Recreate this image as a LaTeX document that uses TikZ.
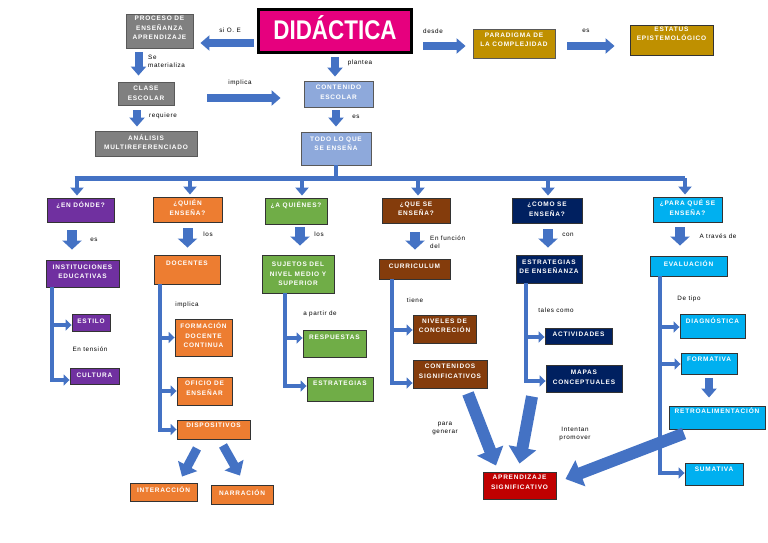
\documentclass[tikz,border=0pt]{standalone}
\usepackage{fontspec}
\setmainfont{Liberation Sans}
\newfontfamily\bxfont{Liberation Sans}[LetterSpace=12]
\newfontfamily\lbfont{Liberation Sans}[LetterSpace=10]
\newfontfamily\titfont{Liberation Sans}[FakeStretch=0.83]
\usetikzlibrary{arrows.meta}
\definecolor{ablue}{HTML}{4472C4}
\definecolor{cmag}{HTML}{E6007E}
\definecolor{cgry}{HTML}{808080}
\definecolor{clbl}{HTML}{8EA9DB}
\definecolor{cgold}{HTML}{BF9000}
\definecolor{cpur}{HTML}{7030A0}
\definecolor{corg}{HTML}{ED7D31}
\definecolor{cgrn}{HTML}{70AD47}
\definecolor{cbrn}{HTML}{843C0C}
\definecolor{cnav}{HTML}{002060}
\definecolor{ccya}{HTML}{00B0F0}
\definecolor{cred}{HTML}{C00000}
\tikzset{
  box/.style={draw=black!80, line width=0.9pt, text=white, align=center, inner sep=1pt,
    font=\bxfont\fontsize{6.5}{9.5}\selectfont\bfseries},
  tup/.style={text depth=#1},
  lbl/.style={font=\lbfont\fontsize{6.3}{8}\selectfont, inner sep=0pt, align=left},
  trunk/.style={draw=ablue, line width=4pt},
  br/.style={draw=ablue, line width=4pt, line join=miter, -{Triangle[width=11pt,length=6pt]}},
  busar/.style={draw=ablue, line width=4pt, -{Triangle[width=13pt,length=8pt]}},
  fat/.style={draw=ablue, line width=8pt, -{Triangle[width=15pt,length=9pt]}},
  colar/.style={draw=ablue, line width=10pt, -{Triangle[width=19pt,length=9pt]}},
  mid/.style={draw=ablue, line width=9pt, -{Triangle[width=21pt,length=12pt]}},
  huge/.style={draw=ablue, line width=12pt, -{Triangle[width=27pt,length=16pt]}},
}
\begin{document}
\begin{tikzpicture}[x=1pt,y=-1pt]
\useasboundingbox[fill=white] (0,0) rectangle (768,543);

% ---------- top part ----------
\node[draw=black, line width=3pt, fill=cmag, minimum width=153pt, minimum height=43pt,
      text=white, font=\titfont\fontsize{27}{30}\selectfont\bfseries, inner sep=0pt, tup=7pt] (did) at (335,31) {DIDÁCTICA};
\node[box, fill=cgry, draw=black!65, minimum width=67pt, minimum height=34pt, tup=6pt] (proc) at (159.5,31) {PROCESO DE\\ENSEÑANZA\\APRENDIZAJE};
\node[box, fill=cgry, draw=black!65, minimum width=56pt, minimum height=23pt] (clase) at (146,93.5) {CLASE\\ESCOLAR};
\node[box, fill=cgry, draw=black!65, minimum width=102pt, minimum height=25pt, tup=3pt] (anal) at (146,143.5) {ANÁLISIS\\MULTIREFERENCIADO};
\node[box, fill=clbl, draw=black!65, minimum width=69pt, minimum height=26pt, tup=4pt] (cont) at (338.5,94) {CONTENIDO\\ESCOLAR};
\node[box, fill=clbl, draw=black!65, minimum width=70pt, minimum height=33pt, tup=10pt] (todo) at (336,148.5) {TODO LO QUE\\SE ENSEÑA};
\node[box, fill=cgold, draw=black!65, minimum width=82pt, minimum height=29pt, tup=8pt] (para) at (514,43.5) {PARADIGMA DE\\LA COMPLEJIDAD};
\node[box, fill=cgold, draw=black!80, minimum width=83pt, minimum height=29pt, tup=14pt] (est) at (671.5,40.5) {ESTATUS\\EPISTEMOLÓGICO};

% ---------- column headers ----------
\node[box, fill=cpur, minimum width=67pt, minimum height=24pt, tup=10pt] (q1) at (80.5,210) {¿EN DÓNDE?};
\node[box, fill=corg, minimum width=69pt, minimum height=25pt, tup=4pt] (q2) at (187.5,209.5) {¿QUIÉN\\ENSEÑA?};
\node[box, fill=cgrn, minimum width=62pt, minimum height=26pt, tup=12pt] (q3) at (296,211) {¿A QUIÉNES?};
\node[box, fill=cbrn, minimum width=68pt, minimum height=25pt, tup=4pt] (q4) at (416,210.5) {¿QUE SE\\ENSEÑA?};
\node[box, fill=cnav, minimum width=70pt, minimum height=25pt, tup=3pt] (q5) at (547,210.5) {¿COMO SE\\ENSEÑA?};
\node[box, fill=ccya, minimum width=69pt, minimum height=25pt, tup=4pt] (q6) at (687.5,209.5) {¿PARA QUÉ SE\\ENSEÑA?};

% ---------- second row ----------
\node[box, fill=cpur, minimum width=73pt, minimum height=27pt, tup=4pt] (inst) at (82.5,273.5) {INSTITUCIONES\\EDUCATIVAS};
\node[box, fill=corg, minimum width=66pt, minimum height=29pt, tup=13pt] (doc) at (187,269.5) {DOCENTES};
\node[box, fill=cgrn, minimum width=72pt, minimum height=38pt] (suj) at (298,274) {SUJETOS DEL\\NIVEL MEDIO Y\\SUPERIOR};
\node[box, fill=cbrn, minimum width=71pt, minimum height=20pt, tup=6pt] (curr) at (414.5,269) {CURRICULUM};
\node[box, fill=cnav, minimum width=66pt, minimum height=28pt, tup=5pt] (estr) at (549,269) {ESTRATEGIAS\\DE ENSEÑANZA};
\node[box, fill=ccya, minimum width=77pt, minimum height=20pt, tup=4pt] (eval) at (688.5,266) {EVALUACIÓN};

% ---------- third level ----------
\node[box, fill=cpur, minimum width=38pt, minimum height=17pt, tup=2pt] (estilo) at (91,322.5) {ESTILO};
\node[box, fill=cpur, minimum width=49pt, minimum height=16pt, tup=1pt] (cult) at (94.5,376) {CULTURA};
\node[box, fill=corg, minimum width=57pt, minimum height=37pt, tup=4pt] (form) at (203.5,337.5) {FORMACIÓN\\DOCENTE\\CONTINUA};
\node[box, fill=corg, minimum width=55pt, minimum height=28pt, tup=6pt] (ofic) at (204.5,391) {OFICIO DE\\ENSEÑAR};
\node[box, fill=corg, minimum width=73pt, minimum height=19pt, tup=9pt] (disp) at (213.5,429.5) {DISPOSITIVOS};
\node[box, fill=corg, minimum width=67pt, minimum height=18pt, tup=4pt] (inter) at (163.5,492) {INTERACCIÓN};
\node[box, fill=corg, minimum width=62pt, minimum height=19pt, tup=4pt] (narr) at (242,494.5) {NARRACIÓN};
\node[box, fill=cgrn, minimum width=63pt, minimum height=27pt, tup=13pt] (resp) at (334.5,343.5) {RESPUESTAS};
\node[box, fill=cgrn, minimum width=66pt, minimum height=24pt, tup=12pt] (estg) at (340,389) {ESTRATEGIAS};
\node[box, fill=cbrn, minimum width=63pt, minimum height=28pt, tup=7pt] (niv) at (444.5,329) {NIVELES DE\\CONCRECIÓN};
\node[box, fill=cbrn, minimum width=74pt, minimum height=28pt, tup=6pt] (csig) at (450,374) {CONTENIDOS\\SIGNIFICATIVOS};
\node[box, fill=cnav, minimum width=67pt, minimum height=16pt, tup=4pt] (act) at (578.5,336) {ACTIVIDADES};
\node[box, fill=cnav, minimum width=76pt, minimum height=27pt, tup=3pt] (mapas) at (584,378.5) {MAPAS\\CONCEPTUALES};
\node[box, fill=ccya, minimum width=65pt, minimum height=24pt, tup=10pt] (diag) at (712.5,326) {DIAGNÓSTICA};
\node[box, fill=ccya, minimum width=56pt, minimum height=21pt, tup=9pt] (fmt) at (709,363.5) {FORMATIVA};
\node[box, fill=ccya, minimum width=96pt, minimum height=23pt, tup=13pt] (retro) at (717,417.5) {RETROALIMENTACIÓN};
\node[box, fill=ccya, minimum width=58pt, minimum height=22pt, tup=10pt] (sum) at (714,474) {SUMATIVA};
\node[box, fill=cred, minimum width=73pt, minimum height=27pt, tup=6pt] (apr) at (519.5,485.5) {APRENDIZAJE\\SIGNIFICATIVO};

% ---------- labels ----------
\node[lbl] (l1) at (230,30) {si O. E};
\node[lbl, anchor=west] (l2) at (148,61) {Se\\materializa};
\node[lbl] (l3) at (240,83) {implica};
\node[lbl] (l4) at (360,63) {plantea};
\node[lbl] (l5) at (163,116) {requiere};
\node[lbl] (l6) at (356,117) {es};
\node[lbl] (l7) at (433,31) {desde};
\node[lbl] (l8) at (586,31) {es};
\node[lbl] (l9) at (94,240) {es};
\node[lbl] (l10) at (208,234) {los};
\node[lbl] (l11) at (319,234) {los};
\node[lbl, anchor=west] (l12) at (430,242) {En función\\del};
\node[lbl] (l13) at (568,235) {con};
\node[lbl] (l14) at (718,236) {A través de};
\node[lbl] (l15) at (187,305) {implica};
\node[lbl] (l16) at (90,349) {En tensión};
\node[lbl] (l17) at (320,314) {a partir de};
\node[lbl] (l18) at (415,300) {tiene};
\node[lbl] (l19) at (556,310) {tales como};
\node[lbl] (l20) at (689,299) {De tipo};
\node[lbl, align=center] (l21) at (445,428) {para\\generar};
\node[lbl, align=center] (l22) at (575,434) {Intentan\\promover};

% ---------- top connectors ----------
\draw[fat, shorten <=3pt, shorten >=7pt] (did.west |- 0,43) -- (proc.east |- 0,43);
\draw[fat, shorten <=3pt, shorten >=4pt] (did.south) -- (did.south |- cont.north);
\draw[fat, shorten <=4pt, shorten >=6pt] ([xshift=-21pt]proc.south) -- ([xshift=-21pt]proc.south |- clase.north);
\draw[fat, shorten <=5pt, shorten >=4pt] ([xshift=-9pt]clase.south) -- ([xshift=-9pt]clase.south |- anal.north);
\draw[fat, shorten <=33pt, shorten >=23pt] (clase.east |- 0,98) -- (cont.west |- 0,98);
\draw[fat, shorten <=3pt, shorten >=5pt] (todo.north |- cont.south) -- (todo.north);
\draw[fat, shorten <=10pt, shorten >=7pt] (did.east |- 0,46) -- (para.west |- 0,46);
\draw[fat, shorten <=12pt, shorten >=15pt] (para.east |- 0,46) -- (est.west |- 0,46);

% ---------- bus ----------
\coordinate (bus) at (0,178);
\draw[trunk] (todo.south) -- (todo.south |- bus);
\draw[trunk, line width=5pt] ([xshift=-6pt]q1.north |- bus) -- ([xshift=-2.5pt]q6.north |- bus);
\draw[busar, shorten >=2pt] ([xshift=-3.5pt]q1.north |- bus) -- ([xshift=-3.5pt]q1.north);
\draw[busar, shorten >=2pt] ([xshift=2.5pt]q2.north |- bus) -- ([xshift=2.5pt]q2.north);
\draw[busar, shorten >=2pt] ([xshift=6pt]q3.north |- bus) -- ([xshift=6pt]q3.north);
\draw[busar, shorten >=2pt] ([xshift=2pt]q4.north |- bus) -- ([xshift=2pt]q4.north);
\draw[busar, shorten >=2pt] ([xshift=1pt]q5.north |- bus) -- ([xshift=1pt]q5.north);
\draw[busar, shorten >=2pt] ([xshift=-2.5pt]q6.north |- bus) -- ([xshift=-2.5pt]q6.north);

% ---------- header to second row ----------
\draw[colar, shorten <=8pt, shorten >=10pt] ([xshift=-8.5pt]q1.south) -- ([xshift=-8.5pt]q1.south |- inst.north);
\draw[colar, shorten <=6pt, shorten >=7pt] (q2.south) -- (q2.south |- doc.north);
\draw[colar, shorten <=3pt, shorten >=9pt] ([xshift=4pt]q3.south) -- ([xshift=4pt]q3.south |- suj.north);
\draw[colar, shorten <=9pt, shorten >=9pt] ([xshift=-1pt]q4.south) -- ([xshift=-1pt]q4.south |- curr.north);
\draw[colar, shorten <=6pt, shorten >=7pt] ([xshift=1pt]q5.south) -- ([xshift=1pt]q5.south |- estr.north);
\draw[colar, shorten <=5pt, shorten >=10pt] ([xshift=-7.5pt]q6.south) -- ([xshift=-7.5pt]q6.south |- eval.north);

% ---------- branches ----------
\draw[br] ([xshift=6pt]inst.south west) |- (estilo.west |- 0,325);
\draw[br] ([xshift=6pt]inst.south west) |- (cult.west |- 0,380);
\draw[br] ([xshift=6pt]doc.south west) |- (form.west);
\draw[br] ([xshift=6pt]doc.south west) |- (ofic.west);
\draw[br] ([xshift=6pt]doc.south west) |- (disp.west);
\draw[br] ([xshift=23pt]suj.south west) |- (resp.west |- 0,338);
\draw[br] ([xshift=23pt]suj.south west) |- (estg.west |- 0,386);
\draw[br] ([xshift=13pt]curr.south west) |- (niv.west |- 0,330);
\draw[br] ([xshift=13pt]curr.south west) |- (csig.west |- 0,383);
\draw[br] ([xshift=10pt]estr.south west) |- (act.west |- 0,337);
\draw[br] ([xshift=10pt]estr.south west) |- (mapas.west |- 0,381);
\draw[br] ([xshift=10pt]eval.south west) |- (diag.west |- 0,327);
\draw[br] ([xshift=10pt]eval.south west) |- (fmt.west |- 0,364);
\draw[br] ([xshift=10pt]eval.south west) |- (sum.west |- 0,473);
\draw[fat, shorten <=4pt, shorten >=8pt] (fmt.south) -- (fmt.south |- retro.north);

% ---------- diagonal arrows ----------
\draw[mid] ([xshift=-16.5pt,yshift=-9pt]disp.south) -- ([xshift=18.5pt,yshift=6pt]inter.north);
\draw[mid] ([xshift=9.5pt,yshift=-6pt]disp.south) -- ([xshift=-2pt,yshift=9pt]narr.north);
\draw[huge] ([xshift=18pt,yshift=-5pt]csig.south) -- ([xshift=-23.5pt,yshift=6pt]apr.north);
\draw[huge] ([xshift=-52pt,yshift=-4pt]mapas.south) -- ([yshift=8pt]apr.north);
\draw[huge] ([xshift=-33pt,yshift=-4pt]retro.south) -- ([xshift=9pt,yshift=6.5pt]apr.east);
\end{tikzpicture}
\end{document}
